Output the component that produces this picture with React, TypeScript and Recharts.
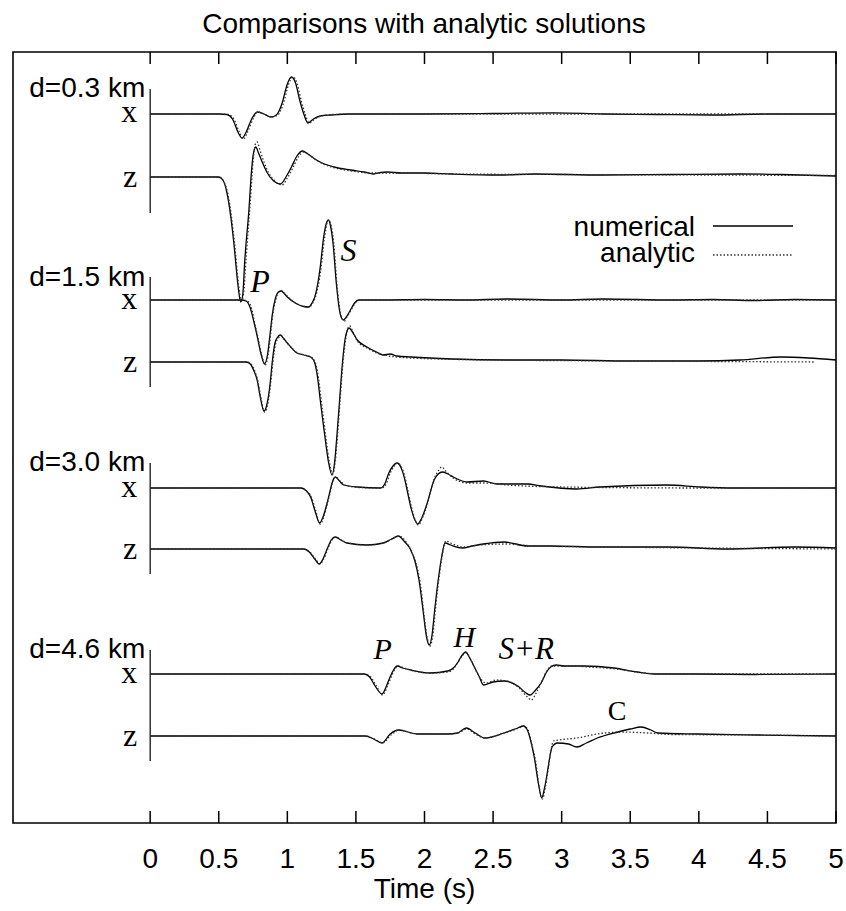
import {
  ComposedChart,
  Line,
  ReferenceArea,
  ReferenceLine,
  Scatter,
  XAxis,
  YAxis,
} from "recharts";

const SANS = '"Liberation Sans", Arial, Helvetica, sans-serif';
const SERIF = '"Liberation Serif", "Times New Roman", serif';

// time axis (s)
const timeTicks = [0, 0.5, 1, 1.5, 2, 2.5, 3, 3.5, 4, 4.5, 5];

// vertical offset of each trace (plot units, 1 unit = 1 px, 0 = bottom of frame)
const baseX03 = 709;
const baseZ03 = 646;
const baseX15 = 523;
const baseZ15 = 461;
const baseX30 = 335;
const baseZ30 = 274;
const baseX46 = 149;
const baseZ46 = 87;

// [time, amplitude]
const numX03 = [[0,0],[0.5,0],[0.56,-0.5],[0.6,-5],[0.64,-18],[0.67,-24],[0.7,-18],[0.74,-5],[0.78,2],[0.83,0],[0.88,-3],[0.92,-1],[0.96,10],[1.0,30],[1.03,37],[1.06,31],[1.09,14],[1.12,0],[1.15,-9],[1.19,-5],[1.24,-2],[1.32,-1],[1.45,0],[2.0,0],[2.5,0.5],[2.95,1.2],[3.3,0],[3.7,-0.5],[4.1,-1],[4.5,0],[5,0]];
const anaX03 = [[0,0],[0.5,0],[0.57,-0.5],[0.61,-5],[0.65,-18],[0.68,-25],[0.71,-18],[0.75,-5],[0.785,2],[0.83,0],[0.885,-3],[0.93,-1],[0.97,10],[1.01,30],[1.04,37],[1.07,31],[1.1,14],[1.13,0],[1.16,-9],[1.2,-5],[1.25,-2],[1.33,-0.5],[1.5,0],[5,0]];

const numZ03 = [[0,0],[0.5,0],[0.53,-3],[0.56,-16],[0.59,-42],[0.61,-66],[0.64,-108],[0.66,-125],[0.675,-118],[0.69,-83],[0.72,-33],[0.74,8],[0.755,25],[0.77,30],[0.79,24],[0.82,14],[0.85,5],[0.9,-4],[0.95,-7],[0.99,0],[1.03,10],[1.07,21],[1.11,26],[1.15,23],[1.2,18],[1.27,13],[1.34,10],[1.46,7],[1.56,5],[1.63,3],[1.68,4.5],[1.73,5],[1.83,4],[2.0,4],[2.2,3],[2.55,2],[2.8,3],[3.3,2],[3.8,2.5],[4.3,3],[4.6,2.5],[5,1]];
const anaZ03 = [[0,0],[0.5,0],[0.53,-3],[0.565,-16],[0.595,-42],[0.615,-66],[0.645,-108],[0.665,-124],[0.68,-118],[0.7,-80],[0.73,-25],[0.75,15],[0.765,32],[0.78,35],[0.8,27],[0.83,15],[0.86,5],[0.91,-4],[0.96,-8],[1.0,-1],[1.04,9],[1.08,20],[1.12,25],[1.16,22],[1.21,17],[1.28,12],[1.35,9],[1.47,6],[1.6,4],[1.8,4],[2.2,3],[3,2.5],[4,2],[5,1.5]];

const numX15 = [[0,0],[0.66,0],[0.7,-1],[0.73,-8],[0.76,-24],[0.78,-36],[0.81,-55],[0.834,-64],[0.855,-55],[0.875,-33],[0.89,-15],[0.91,0],[0.935,8],[0.956,9],[0.98,6],[1.0,3],[1.07,-4],[1.12,-6.5],[1.155,-7],[1.18,-3],[1.2,3],[1.22,15],[1.24,33],[1.265,63],[1.285,77],[1.3,80],[1.315,74],[1.333,57],[1.357,17],[1.38,-10],[1.395,-18],[1.41,-20],[1.43,-17],[1.46,-10],[1.49,-3],[1.52,0],[1.7,0],[2.0,0.5],[2.3,0],[2.6,1],[3.0,0],[3.3,1],[3.8,0],[4.1,0.5],[4.4,-0.5],[4.7,0.5],[5,0]];
const anaX15 = [[0,0],[0.67,0],[0.71,-1],[0.74,-9],[0.765,-25],[0.785,-37],[0.815,-56],[0.838,-65],[0.86,-55],[0.88,-32],[0.895,-14],[0.915,0],[0.94,8],[0.96,9],[0.985,6],[1.005,3],[1.075,-4],[1.125,-6.5],[1.16,-7],[1.185,-3],[1.205,3],[1.225,14],[1.245,31],[1.27,61],[1.29,77],[1.305,80],[1.32,74],[1.34,55],[1.362,15],[1.385,-11],[1.4,-19],[1.415,-21],[1.435,-17],[1.465,-10],[1.495,-3],[1.53,0],[5,0]];

const numZ15 = [[0,0],[0.7,0],[0.73,-2],[0.76,-10],[0.78,-18],[0.8,-33],[0.83,-49],[0.855,-40],[0.875,-21],[0.89,0],[0.91,19],[0.93,25],[0.95,27],[0.97,24],[1.0,19],[1.07,9],[1.12,7],[1.17,5],[1.2,-1],[1.22,-15],[1.24,-38],[1.26,-60],[1.28,-81],[1.3,-100],[1.326,-113],[1.345,-100],[1.363,-71],[1.38,-40],[1.4,-4],[1.42,22],[1.435,31],[1.45,34],[1.47,31],[1.51,22],[1.58,15],[1.65,10],[1.7,7],[1.75,8],[1.8,6],[1.9,5],[2.2,3],[2.6,2],[3.0,2],[3.5,1],[4.0,1],[4.3,2],[4.6,5],[4.8,4],[5,2]];
const anaZ15 = [[0,0],[0.705,0],[0.735,-2],[0.765,-10],[0.785,-19],[0.805,-34],[0.835,-50],[0.86,-40],[0.88,-20],[0.895,0],[0.915,18],[0.935,24],[0.955,26],[0.975,23],[1.005,18],[1.075,9],[1.125,7],[1.175,5],[1.205,-1],[1.225,-14],[1.245,-36],[1.265,-58],[1.285,-80],[1.305,-99],[1.33,-112],[1.35,-99],[1.368,-70],[1.385,-38],[1.405,-2],[1.425,22],[1.44,33],[1.455,36],[1.475,31],[1.51,21],[1.58,14],[1.7,7],[1.9,4],[2.5,2],[3.5,1],[4.84,0]];

const numX30 = [[0,0],[1.1,0],[1.14,-3],[1.17,-9],[1.2,-22],[1.236,-35],[1.26,-29],[1.29,-15],[1.31,-4],[1.326,5],[1.35,11],[1.38,7],[1.41,3],[1.51,1],[1.68,0],[1.71,4],[1.74,15],[1.77,22],[1.8,25],[1.83,20],[1.85,12],[1.87,0],[1.9,-19],[1.93,-32],[1.95,-36],[1.98,-30],[2.02,-15],[2.07,8],[2.1,14],[2.13,16],[2.17,14],[2.21,11],[2.31,6],[2.43,7],[2.53,4],[2.75,4],[2.85,2],[3.11,-1],[3.28,1],[3.77,3],[4.01,1],[4.26,0],[5,0]];
const anaX30 = [[0,0],[1.1,0],[1.14,-3],[1.175,-9],[1.205,-22],[1.24,-36],[1.265,-29],[1.295,-14],[1.315,-3],[1.33,6],[1.355,11],[1.385,7],[1.42,3],[1.52,0.5],[1.69,0],[1.72,4],[1.75,15],[1.78,22],[1.805,25],[1.835,20],[1.855,12],[1.875,0],[1.905,-19],[1.935,-33],[1.955,-37],[1.985,-30],[2.025,-14],[2.07,9],[2.1,17],[2.125,21],[2.16,16],[2.21,10],[2.31,5],[2.45,5],[2.6,3],[3,1],[4,0],[5,0]];

const numZ30 = [[0,0],[1.12,0],[1.16,-3],[1.2,-10],[1.233,-15],[1.26,-10],[1.29,0],[1.32,9],[1.35,12],[1.39,9],[1.435,6],[1.58,4],[1.7,6],[1.76,10],[1.81,13],[1.85,8],[1.9,-1],[1.93,-12],[1.96,-31],[1.99,-62],[2.015,-88],[2.035,-96],[2.055,-86],[2.075,-60],[2.1,-31],[2.125,-8],[2.15,6],[2.19,4],[2.275,1],[2.35,3],[2.43,5],[2.58,7],[2.75,3],[2.92,3],[3.28,2],[3.77,2],[4.21,0],[4.7,2],[5,1]];
const anaZ30 = [[0,0],[1.12,0],[1.165,-3],[1.205,-10],[1.238,-15],[1.265,-10],[1.295,0],[1.325,9],[1.355,12],[1.395,9],[1.44,6],[1.58,4],[1.7,6],[1.765,10],[1.815,13],[1.855,9],[1.88,4],[1.91,-4],[1.94,-15],[1.97,-35],[1.995,-64],[2.02,-89],[2.04,-97],[2.06,-87],[2.08,-60],[2.105,-30],[2.13,-6],[2.155,8],[2.19,6],[2.28,2],[2.4,4],[2.6,5],[2.8,3],[3.3,2],[4,1],[5,0]];

const numX46 = [[0,0],[1.56,0],[1.6,-3],[1.64,-12],[1.69,-20],[1.72,-13],[1.74,-6],[1.77,3],[1.8,8],[1.84,6],[1.9,4],[2.04,1],[2.17,3],[2.21,6],[2.24,11],[2.27,18],[2.3,22],[2.33,16],[2.36,8],[2.4,-3],[2.43,-11],[2.5,-8],[2.58,-7],[2.68,-12],[2.74,-19],[2.77,-21],[2.81,-16],[2.85,-9],[2.89,2],[2.92,7],[2.96,9],[3.02,8],[3.16,8],[3.38,6],[3.55,2],[3.67,0],[3.99,0],[4.4,-0.5],[5,0]];
const anaX46 = [[0,0],[1.56,0],[1.6,-2],[1.645,-11],[1.695,-21],[1.73,-12],[1.76,-2],[1.785,5],[1.81,8],[1.85,6],[1.92,3],[2.05,1],[2.17,2],[2.21,5],[2.245,12],[2.28,19],[2.305,21],[2.335,15],[2.37,5],[2.41,-5],[2.45,-9],[2.52,-6],[2.6,-7],[2.69,-14],[2.75,-23],[2.78,-26],[2.81,-20],[2.85,-9],[2.89,3],[2.93,8],[3.05,8],[3.2,7],[3.4,5],[3.6,1],[3.8,0],[5,0]];

const numZ46 = [[0,0],[1.57,0],[1.63,-3],[1.69,-7],[1.75,2],[1.81,6],[1.95,2],[2.17,2],[2.24,3],[2.305,8],[2.37,3],[2.44,-2],[2.58,3],[2.68,8],[2.72,10],[2.75,6],[2.78,-8],[2.8,-21],[2.83,-47],[2.855,-62],[2.875,-52],[2.895,-37],[2.915,-20],[2.93,-11],[2.97,-7],[3.05,-8],[3.11,-11],[3.18,-7],[3.26,-2],[3.41,4],[3.5,7],[3.58,9],[3.65,6],[3.7,3],[3.99,2],[4.44,1],[5,0]];
const anaZ46 = [[0,0],[1.57,0],[1.635,-3],[1.695,-7],[1.755,1],[1.815,6],[1.95,2],[2.17,2],[2.245,3],[2.31,7],[2.37,2],[2.44,-2],[2.58,3],[2.69,8],[2.725,10],[2.755,6],[2.785,-10],[2.81,-25],[2.835,-50],[2.86,-63],[2.88,-52],[2.9,-35],[2.92,-16],[2.94,-5],[2.98,-4],[3.11,-2],[3.26,2],[3.43,4],[3.63,3],[3.8,1.5],[4.4,1],[5,0]];

const traces = [
  { id: "x03", base: baseX03, num: numX03, ana: anaX03 },
  { id: "z03", base: baseZ03, num: numZ03, ana: anaZ03 },
  { id: "x15", base: baseX15, num: numX15, ana: anaX15 },
  { id: "z15", base: baseZ15, num: numZ15, ana: anaZ15 },
  { id: "x30", base: baseX30, num: numX30, ana: anaX30 },
  { id: "z30", base: baseZ30, num: numZ30, ana: anaZ30 },
  { id: "x46", base: baseX46, num: numX46, ana: anaX46 },
  { id: "z46", base: baseZ46, num: numZ46, ana: anaZ46 },
];

// t = 0 bars spanning each station pair [top, bottom]
const stationBars = [
  [734, 610],
  [546, 436],
  [360, 249],
  [173, 62],
];

// text placed in plot units: [t, y, text, ...]
const stationLabels = [
  [-0.036, 726, "d=0.3 km"],
  [-0.036, 537, "d=1.5 km"],
  [-0.036, 352, "d=3.0 km"],
  [-0.036, 165, "d=4.6 km"],
];
const componentLabels = [
  [-0.095, 701, "x"],
  [-0.095, 636, "z"],
  [-0.095, 514, "x"],
  [-0.095, 451, "z"],
  [-0.095, 326, "x"],
  [-0.095, 264, "z"],
  [-0.095, 140, "x"],
  [-0.095, 77, "z"],
];
const phaseLabels = [
  [0.73, 531, "P", 32, true],
  [1.387, 562, "S", 32, true],
  [1.628, 164, "P", 30, true],
  [2.212, 176, "H", 30, true],
  [2.54, 164, "S+R", 31, true],
  [3.336, 103, "C", 28, false],
];

const toRows = (pts: number[][], base: number) => pts.map(([t, a]) => ({ t, y: base + a }));

const textRows = [
  ...stationLabels.map(([t, y, text]) => ({ t, y, text, font: SANS, size: 28, italic: false, anchor: "end" })),
  ...componentLabels.map(([t, y, text]) => ({ t, y, text, font: SERIF, size: 32, italic: false, anchor: "end" })),
  ...phaseLabels.map(([t, y, text, size, italic]) => ({ t, y, text, font: SERIF, size, italic, anchor: "start" })),
];

function TextMark(props: any) {
  const { cx, cy, payload } = props;
  if (cx == null || cy == null) return null;
  return (
    <text
      x={cx}
      y={cy}
      textAnchor={payload.anchor}
      fontFamily={payload.font}
      fontSize={payload.size}
      fontStyle={payload.italic ? "italic" : "normal"}
      fill="#000"
    >
      {payload.text}
    </text>
  );
}

export default function App() {
  return (
    <div style={{ position: "relative", width: 846, height: 911, background: "#fff" }}>
      <style>{"body{margin:0}"}</style>
      <ComposedChart width={846} height={911} margin={{ top: 52, right: 10, bottom: 0, left: 13 }}>
        <XAxis
          type="number"
          dataKey="t"
          domain={[-1, 5]}
          ticks={timeTicks}
          interval={0}
          allowDataOverflow
          axisLine={false}
          tickLine={false}
          tickSize={0}
          tickMargin={25}
          height={88}
          tick={{ fill: "#000", fontSize: 28, fontFamily: SANS }}
          label={{ value: "Time (s)", position: "insideBottom", offset: 13, fill: "#000", fontSize: 28, fontFamily: SANS }}
        />
        <YAxis type="number" dataKey="y" domain={[0, 771]} hide allowDataOverflow />
        <ReferenceArea x1={-1} x2={5} y1={0} y2={771} fill="none" stroke="#000" strokeWidth={1.6} ifOverflow="visible" />
        {timeTicks.map((t) => (
          <ReferenceLine key={"b" + t} segment={[{ x: t, y: 0 }, { x: t, y: 12 }]} stroke="#000" strokeWidth={1.5} ifOverflow="visible" />
        ))}
        {timeTicks.map((t) => (
          <ReferenceLine key={"t" + t} segment={[{ x: t, y: 759 }, { x: t, y: 771 }]} stroke="#000" strokeWidth={1.5} ifOverflow="visible" />
        ))}
        {stationBars.map(([top, bottom], i) => (
          <ReferenceLine key={"s" + i} segment={[{ x: 0, y: top }, { x: 0, y: bottom }]} stroke="#000" strokeWidth={1.2} ifOverflow="visible" />
        ))}
        {traces.map((tr) => (
          <Line
            key={tr.id + "n"}
            data={toRows(tr.num, tr.base)}
            dataKey="y"
            type="monotone"
            stroke="#000"
            strokeWidth={1.3}
            dot={false}
            activeDot={false}
            isAnimationActive={false}
          />
        ))}
        {traces.map((tr) => (
          <Line
            key={tr.id + "a"}
            data={toRows(tr.ana, tr.base)}
            dataKey="y"
            type="monotone"
            stroke="#333"
            strokeWidth={1.3}
            strokeDasharray="1.5 2"
            dot={false}
            activeDot={false}
            isAnimationActive={false}
          />
        ))}
        <Scatter data={textRows} dataKey="y" shape={<TextMark />} isAnimationActive={false} />
      </ComposedChart>
      <svg
        width={846}
        height={911}
        style={{ position: "absolute", left: 0, top: 0, pointerEvents: "none" }}
      >
        <text x={424} y={33} textAnchor="middle" fontFamily={SANS} fontSize={28} fill="#000">
          Comparisons with analytic solutions
        </text>
        <text x={695} y={236} textAnchor="end" fontFamily={SANS} fontSize={28} fill="#000">
          numerical
        </text>
        <line x1={713} x2={793} y1={226} y2={226} stroke="#000" strokeWidth={1.3} />
        <text x={695} y={262} textAnchor="end" fontFamily={SANS} fontSize={28} fill="#000">
          analytic
        </text>
        <line x1={713} x2={793} y1={255} y2={255} stroke="#333" strokeWidth={1.3} strokeDasharray="1.5 2" />
      </svg>
    </div>
  );
}
